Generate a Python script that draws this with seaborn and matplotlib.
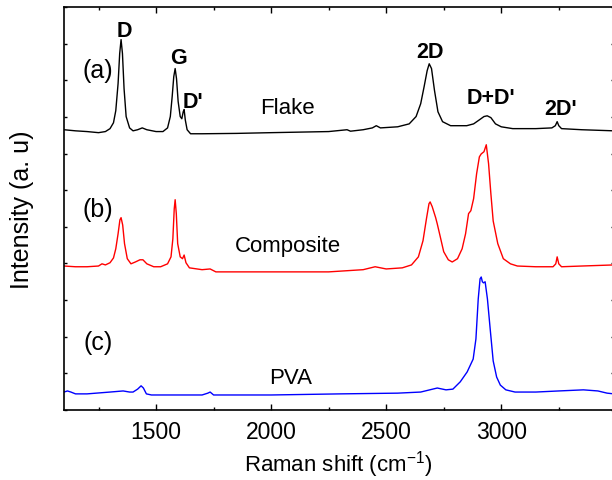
import numpy as np
import pandas as pd
import seaborn as sns
import matplotlib.pyplot as plt
from matplotlib.ticker import MultipleLocator, NullFormatter

# Raman spectra (offset stacked, arbitrary units)
flake_x = [1100, 1150, 1200, 1250, 1280, 1300, 1315, 1325, 1335, 1342, 1348, 1354, 1361, 1370,
           1385, 1400, 1420, 1440, 1460, 1500, 1530, 1550, 1562, 1570, 1577, 1583, 1589, 1596,
           1605, 1612, 1618, 1622, 1627, 1635, 1650, 1700, 1850, 2000, 2250, 2330, 2345, 2400,
           2440, 2457, 2475, 2550, 2600, 2630, 2650, 2665, 2678, 2687, 2697, 2710, 2725, 2745,
           2780, 2850, 2880, 2905, 2925, 2939, 2955, 2975, 3000, 3050, 3150, 3220, 3235, 3243,
           3250, 3262, 3350, 3490]
flake_y = [7.65, 7.62, 7.60, 7.57, 7.60, 7.68, 7.84, 8.17, 8.91, 9.73, 10.11, 9.73, 8.77, 8.01,
           7.70, 7.62, 7.65, 7.70, 7.65, 7.60, 7.60, 7.70, 8.01, 8.55, 9.10, 9.32, 9.04, 8.42,
           8.01, 7.95, 8.14, 8.20, 7.92, 7.65, 7.54, 7.54, 7.55, 7.57, 7.60, 7.65, 7.61, 7.65,
           7.70, 7.76, 7.70, 7.73, 7.81, 8.01, 8.36, 8.83, 9.26, 9.45, 9.32, 8.72, 8.14, 7.87,
           7.76, 7.76, 7.81, 7.92, 8.01, 8.03, 7.98, 7.81, 7.73, 7.68, 7.68, 7.70, 7.76, 7.87,
           7.76, 7.68, 7.65, 7.62]

comp_x = [1100, 1150, 1200, 1250, 1265, 1280, 1300, 1315, 1325, 1335, 1343, 1348, 1355, 1363,
          1375, 1391, 1410, 1430, 1443, 1460, 1490, 1520, 1550, 1565, 1573, 1579, 1583, 1588,
          1594, 1605, 1615, 1622, 1630, 1645, 1700, 1735, 1760, 2000, 2250, 2400, 2452, 2500,
          2570, 2610, 2640, 2660, 2675, 2686, 2691, 2700, 2715, 2722, 2735, 2750, 2770, 2787,
          2810, 2830, 2845, 2858, 2868, 2880, 2893, 2905, 2913, 2925, 2935, 2945, 2955, 2965,
          2985, 3009, 3040, 3070, 3150, 3225, 3237, 3243, 3250, 3262, 3350, 3490]
comp_y = [3.93, 3.91, 3.91, 3.93, 3.99, 3.96, 4.02, 4.15, 4.40, 4.81, 5.19, 5.25, 5.05, 4.54,
          4.13, 3.99, 4.04, 4.10, 4.10, 3.99, 3.91, 3.91, 3.99, 4.18, 4.67, 5.49, 5.74, 5.36,
          4.54, 4.18, 4.13, 4.23, 4.02, 3.88, 3.83, 3.85, 3.77, 3.77, 3.77, 3.83, 3.91, 3.85,
          3.88, 3.96, 4.18, 4.62, 5.22, 5.63, 5.68, 5.55, 5.25, 5.08, 4.73, 4.32, 4.10, 4.04,
          4.13, 4.40, 4.81, 5.36, 5.44, 5.77, 6.45, 6.91, 6.99, 7.05, 7.24, 6.72, 5.90, 5.16,
          4.54, 4.13, 3.99, 3.93, 3.91, 3.91, 3.99, 4.18, 3.99, 3.91, 3.93, 3.96]

pva_x = [1100, 1115, 1130, 1150, 1200, 1300, 1357, 1385, 1400, 1420, 1435, 1445, 1458, 1480,
         1700, 1725, 1735, 1750, 2000, 2300, 2550, 2650, 2722, 2760, 2790, 2822, 2852, 2878,
         2890, 2900, 2908, 2913, 2918, 2923, 2930, 2940, 2952, 2965, 2980, 2996, 3020, 3060,
         3150, 3250, 3357, 3420, 3460, 3490]
pva_y = [0.49, 0.52, 0.49, 0.44, 0.44, 0.49, 0.52, 0.49, 0.49, 0.57, 0.66, 0.60, 0.44, 0.41,
         0.41, 0.46, 0.49, 0.41, 0.41, 0.44, 0.46, 0.49, 0.60, 0.55, 0.57, 0.77, 1.04, 1.39,
         1.94, 3.03, 3.58, 3.63, 3.50, 3.47, 3.50, 3.03, 2.21, 1.34, 0.90, 0.68, 0.55, 0.49,
         0.49, 0.52, 0.55, 0.52, 0.46, 0.44]

samples = ["Flake", "Composite", "PVA"]
colors = ["black", "red", "blue"]

# peak labels on the flake spectrum
peak_names = ["D", "G", "D'", "2D", "D+D'", "2D'"]
peak_x = [1361, 1596, 1661, 2691, 2957, 3257]
peak_y = [10.36, 9.62, 8.42, 9.78, 8.52, 8.22]

panel_tags = ["(a)", "(b)", "(c)"]
tag_y = [9.29, 5.49, 1.86]
name_x = [2070, 2074, 2083]
name_y = [8.25, 4.50, 0.90]

df = pd.concat([
    pd.DataFrame({"shift": flake_x, "intensity": flake_y, "sample": "Flake"}),
    pd.DataFrame({"shift": comp_x, "intensity": comp_y, "sample": "Composite"}),
    pd.DataFrame({"shift": pva_x, "intensity": pva_y, "sample": "PVA"}),
])

sns.set_style("ticks")
plt.rcParams["font.family"] = ["Liberation Sans", "DejaVu Sans"]
plt.rcParams["mathtext.fontset"] = "custom"
plt.rcParams["mathtext.rm"] = "Liberation Sans"
for key in ["text.color", "axes.labelcolor", "axes.edgecolor", "xtick.color", "ytick.color"]:
    plt.rcParams[key] = "black"

fig = plt.figure(figsize=(6.12, 4.81), dpi=100)
ax = fig.add_axes([64 / 612, 70 / 481, 550 / 612, 403 / 481])

sns.lineplot(data=df, x="shift", y="intensity", hue="sample", hue_order=samples,
             palette=colors, sort=False, estimator=None, linewidth=1.0, legend=False, ax=ax)

ax.set_xlim(1100, 3490)
ax.set_ylim(0, 11)

ax.xaxis.set_major_locator(MultipleLocator(500))
ax.xaxis.set_minor_locator(MultipleLocator(250))
ax.yaxis.set_major_locator(MultipleLocator(1))
ax.yaxis.set_major_formatter(NullFormatter())
ax.tick_params(axis="both", which="both", direction="in", top=True, right=True, width=1.0)
ax.tick_params(axis="x", which="major", length=4.5, labelsize=16.5, pad=7)
ax.tick_params(axis="x", which="minor", length=2.5)
ax.tick_params(axis="y", which="major", length=2.5)
for sp in ax.spines.values():
    sp.set_linewidth(1.2)

ax.set_xlabel("Raman shift (cm$^{-1}$)", fontsize=16)
ax.set_ylabel("Intensity (a. u)", fontsize=18)
ax.xaxis.set_label_coords(0.498, -0.095)
ax.yaxis.set_label_coords(-0.054, 0.5)

for name, x, y in zip(peak_names, peak_x, peak_y):
    ax.text(x, y, name, fontsize=15.5, fontweight="bold", ha="center", va="center")
for tag, y in zip(panel_tags, tag_y):
    ax.text(1248, y, tag, fontsize=18, ha="center", va="center")
for name, x, y in zip(samples, name_x, name_y):
    ax.text(x, y, name, fontsize=16, ha="center", va="center")

fig.savefig("out.png", dpi=100)
